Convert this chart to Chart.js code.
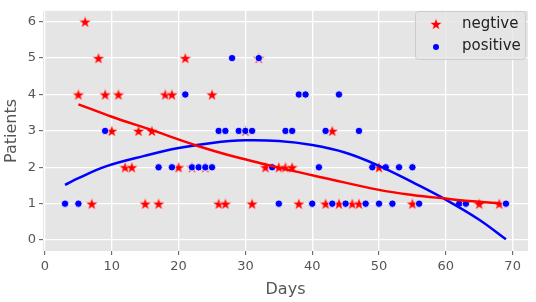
<!DOCTYPE html>
<html>
<head>
<meta charset="utf-8">
<script src="https://cdn.jsdelivr.net/npm/chart.js@4.4.0/dist/chart.umd.min.js"></script>
<style>
  html, body { margin: 0; padding: 0; background: #fff; }
  #wrap { width: 536px; height: 302px; }
</style>
</head>
<body>
<div id="wrap"><canvas id="c" width="536" height="302"></canvas></div>
<script>
// data ------------------------------------------->
// negtive patients (red stars)
const negDays = [6, 8, 21, 32, 5, 9, 11, 18, 19, 25, 10, 14, 16, 30, 43,
  12, 13, 20, 22, 24, 33, 35, 36, 37, 50,
  7, 15, 17, 26, 27, 31, 38, 42, 44, 46, 47, 55, 65, 68]
const negPatients = [6, 5, 5, 5, 4, 4, 4, 4, 4, 4, 3, 3, 3, 3, 3,
  2, 2, 2, 2, 2, 2, 2, 2, 2, 2,
  1, 1, 1, 1, 1, 1, 1, 1, 1, 1, 1, 1, 1, 1]

// positive patients (blue dots)
const posDays = [28, 32, 21, 38, 39, 44, 9, 26, 27, 29, 30, 31, 36, 37, 42, 47,
  17, 19, 22, 23, 24, 25, 34, 41, 49, 51, 53, 55,
  3, 5, 35, 40, 43, 45, 48, 50, 52, 56, 62, 63, 69]
const posPatients = [5, 5, 4, 4, 4, 4, 3, 3, 3, 3, 3, 3, 3, 3, 3, 3,
  2, 2, 2, 2, 2, 2, 2, 2, 2, 2, 2, 2,
  1, 1, 1, 1, 1, 1, 1, 1, 1, 1, 1, 1, 1]

// trend lines
const negTrendDays = [5, 10, 16, 23, 29, 35, 42, 50, 55, 60, 65, 68]
const negTrend = [3.73, 3.39, 3.02, 2.58, 2.26, 1.99, 1.70, 1.38, 1.24, 1.14, 1.05, 1.01]
const posTrendDays = [3, 5, 9, 15, 20, 25, 30, 35, 40, 45, 50, 55, 60, 65, 69]
const posTrend = [1.52, 1.70, 2.02, 2.32, 2.53, 2.67, 2.74, 2.72, 2.61, 2.40, 2.04, 1.59, 1.11, 0.56, 0.02]

const xTicks = [0, 10, 20, 30, 40, 50, 60, 70]
const yTicks = [0, 1, 2, 3, 4, 5, 6]
const labels = ['negtive', 'positive']

const toPts = (xs, ys) => xs.map((x, i) => ({x: x, y: ys[i]}))

// star marker
const makeStar = (size, color) => {
    let cv = document.createElement('canvas')
    cv.width = size
    cv.height = size
    let g = cv.getContext('2d')
    let cx = size / 2, cy = size / 2 + 0.6
    let ro = size / 2 - 0.5, ri = ro * 0.4
    g.beginPath()
    for (let i = 0; i < 10; i++) {
        let r = i % 2 == 0 ? ro : ri
        let a = -Math.PI / 2 + i * Math.PI / 5
        g.lineTo(cx + r * Math.cos(a), cy + r * Math.sin(a))
    }
    g.closePath()
    g.fillStyle = color
    g.fill()
    g.lineWidth = 0.6
    g.strokeStyle = 'rgba(255,255,255,0.8)'
    g.stroke()
    return cv
}
const starImg = makeStar(14, '#ff0000')

// plot background
const bgPlugin = {
    id: 'bg',
    beforeDraw(chart) {
        let {ctx, chartArea: a} = chart
        ctx.save()
        ctx.fillStyle = '#e5e5e5'
        ctx.fillRect(a.left, a.top, a.right - a.left, a.bottom - a.top)
        ctx.restore()
    }
}

// legend inside the plot, upper right
const legendPlugin = {
    id: 'innerLegend',
    afterDraw(chart) {
        let ctx = chart.ctx
        let x0 = 415, y0 = 11, w = 110, h = 48
        ctx.save()
        ctx.beginPath()
        ctx.roundRect(x0 + 0.5, y0 + 0.5, w, h, 3)
        ctx.fillStyle = 'rgba(229,229,229,0.8)'
        ctx.fill()
        ctx.strokeStyle = '#cccccc'
        ctx.lineWidth = 1
        ctx.stroke()
        ctx.drawImage(starImg, 436 - 7, 24 - 7)
        ctx.beginPath()
        ctx.arc(436, 47, 3, 0, Math.PI * 2)
        ctx.fillStyle = '#0000ff'
        ctx.fill()
        ctx.fillStyle = '#222'
        ctx.font = '15px "DejaVu Sans"'
        ctx.textBaseline = 'middle'
        ctx.fillText(labels[0], 462, 24)
        ctx.fillText(labels[1], 462, 46)
        ctx.restore()
    }
}

let ctx = document.getElementById('c').getContext('2d')

new Chart(ctx, {
    type: 'scatter',
    data: {
        datasets: [
            {
                label: 'negtive trend',
                data: toPts(negTrendDays, negTrend),
                showLine: true,
                borderColor: '#ff0000',
                borderWidth: 2.5,
                pointRadius: 0,
                tension: 0.4
            },
            {
                label: 'positive trend',
                data: toPts(posTrendDays, posTrend),
                showLine: true,
                borderColor: '#0000ff',
                borderWidth: 2.5,
                pointRadius: 0,
                tension: 0.4
            },
            {
                label: labels[1],
                data: toPts(posDays, posPatients),
                pointRadius: 3.7,
                backgroundColor: '#0000ff',
                borderColor: '#ffffff',
                borderWidth: 0.8
            },
            {
                label: labels[0],
                data: toPts(negDays, negPatients),
                pointStyle: starImg,
                pointRadius: 7
            }
        ]
    },
    options: {
        responsive: false,
        animation: false,
        events: [],
        layout: {padding: {top: 3, right: 5, left: 0, bottom: 0}},
        plugins: {
            legend: {display: false},
            tooltip: {enabled: false}
        },
        scales: {
            x: {
                type: 'linear',
                min: -0.3,
                max: 72.3,
                afterBuildTicks: s => { s.ticks = xTicks.map(v => ({value: v})) },
                afterFit: s => { s.height = 51 },
                grid: {color: '#ffffff', lineWidth: 1.3, tickLength: 4, tickColor: '#555555', tickWidth: 1},
                border: {display: false},
                ticks: {color: '#555555', font: {family: 'DejaVu Sans', size: 13}, padding: 4, maxRotation: 0},
                title: {display: true, text: 'Days', color: '#555555', font: {family: 'DejaVu Sans', size: 16}, padding: {top: 0, bottom: 3}}
            },
            y: {
                min: -0.3,
                max: 6.3,
                afterBuildTicks: s => { s.ticks = yTicks.map(v => ({value: v})) },
                afterFit: s => { s.width = 43 },
                grid: {color: '#ffffff', lineWidth: 1.3, tickLength: 4, tickColor: '#555555', tickWidth: 1},
                border: {display: false},
                ticks: {color: '#555555', font: {family: 'DejaVu Sans', size: 13}, padding: 3},
                title: {display: true, text: 'Patients', color: '#555555', font: {family: 'DejaVu Sans', size: 16}, padding: {top: 2, bottom: 0}}
            }
        }
    },
    plugins: [bgPlugin, legendPlugin]
})
</script>
</body>
</html>
